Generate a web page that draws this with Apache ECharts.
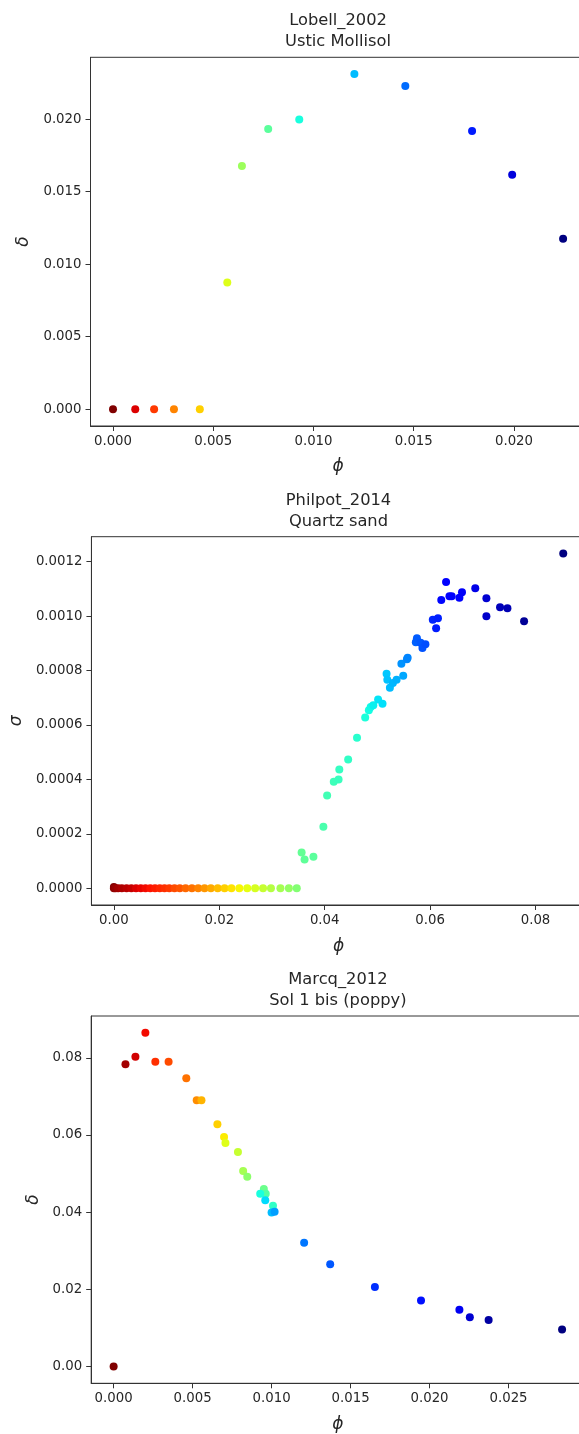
<!DOCTYPE html>
<html>
<head>
<meta charset="utf-8">
<script src="https://cdn.jsdelivr.net/npm/echarts@6/dist/echarts.min.js"></script>
<style>
html,body{margin:0;padding:0;background:#fff;overflow:hidden;width:579px;height:1434px;}
#chart{width:600px;height:1434px;}
</style>
</head>
<body>
<div id="chart"></div>
<script>
// ---------- Data ----------
// Lobell_2002 – Ustic Mollisol
const lobellPhi   = [0, 0.00111, 0.00205, 0.00304, 0.00433, 0.00570, 0.00643, 0.00774, 0.00929, 0.01204, 0.01458, 0.01791, 0.01991, 0.02245];
const lobellDelta = [0, 0, 0, 0, 0, 0.00873, 0.01676, 0.01931, 0.01996, 0.02310, 0.02228, 0.01917, 0.01616, 0.01175];
const lobellC     = [1.0, 0.92, 0.85, 0.77, 0.69, 0.62, 0.54, 0.46, 0.38, 0.31, 0.23, 0.15, 0.08, 0.0];

// Philpot_2014 – Quartz sand
const philpotPhi = [
  0, 0, 0.0003, 0.0008, 0.0015, 0.0024, 0.0033, 0.0042, 0.0051, 0.0060, 0.0069, 0.0078, 0.0087, 0.0096, 0.0105, 0.0115,
  0.0125, 0.0136, 0.0148, 0.0160, 0.0172, 0.0184, 0.0197, 0.0210, 0.0223, 0.0238, 0.0253, 0.0268, 0.0283, 0.0298, 0.0316,
  0.0332, 0.0347,
  0.03562, 0.03618, 0.03786, 0.03975, 0.04046, 0.04172, 0.04263, 0.04277, 0.04445, 0.04613, 0.04768, 0.04838, 0.04873,
  0.04922, 0.05013, 0.05097, 0.05174, 0.05188, 0.05237, 0.05294, 0.05364, 0.05490, 0.05455, 0.05560, 0.05574, 0.05729,
  0.05750, 0.05820, 0.05855, 0.05911, 0.06051, 0.06149, 0.06114, 0.06212, 0.06303, 0.06367, 0.06409, 0.06556, 0.06605,
  0.06857, 0.07068, 0.07068, 0.07327, 0.07467, 0.07783, 0.08526
];
const philpotSigma = [
  0.000005, 0, 0, 0, 0, 0, 0, 0, 0, 0, 0, 0, 0, 0, 0, 0,
  0, 0, 0, 0, 0, 0, 0, 0, 0, 0, 0, 0, 0, 0, 0,
  0, 0,
  0.000131, 0.000106, 0.000116, 0.000226, 0.000341, 0.000391, 0.000400, 0.000436, 0.000473, 0.000553, 0.000627, 0.000654, 0.000666,
  0.000672, 0.000693, 0.000678, 0.000788, 0.000766, 0.000737, 0.000754, 0.000766, 0.000781, 0.000825, 0.000841, 0.000847, 0.000904,
  0.000918, 0.000902, 0.000883, 0.000896, 0.000986, 0.000992, 0.000955, 0.001059, 0.001125, 0.001073, 0.001073, 0.001067, 0.001087,
  0.001102, 0.001065, 0.000999, 0.001032, 0.001029, 0.000981, 0.001230
];
const philpotC = [
  1.0, 0.99, 0.98, 0.97, 0.96, 0.95, 0.94, 0.92, 0.91, 0.90, 0.89, 0.88, 0.87, 0.86, 0.85, 0.83,
  0.82, 0.80, 0.79, 0.77, 0.75, 0.73, 0.71, 0.69, 0.67, 0.65, 0.63, 0.61, 0.59, 0.57, 0.55,
  0.53, 0.51,
  0.47, 0.465, 0.46, 0.44, 0.43, 0.425, 0.42, 0.415, 0.41, 0.40, 0.385, 0.375, 0.37,
  0.36, 0.35, 0.345, 0.32, 0.315, 0.31, 0.305, 0.30, 0.29, 0.27, 0.26, 0.255, 0.22,
  0.215, 0.21, 0.205, 0.20, 0.16, 0.155, 0.15, 0.13, 0.125, 0.12, 0.115, 0.11, 0.105,
  0.09, 0.07, 0.065, 0.05, 0.045, 0.02, 0.0
];

// Marcq_2012 – Sol 1 bis (poppy)
const marcqPhi = [0, 0.00075, 0.00138, 0.00201, 0.00264, 0.00348, 0.00460, 0.00526, 0.00556, 0.00657, 0.00699, 0.00708, 0.00787, 0.00820, 0.00846,
                  0.00951, 0.00963, 0.01009, 0.00928, 0.00960, 0.01000, 0.01019, 0.01206, 0.01371, 0.01654, 0.01946, 0.02189, 0.02255, 0.02374, 0.02839];
const marcqDelta = [0, 0.0783, 0.0803, 0.0865, 0.0790, 0.0790, 0.0747, 0.0690, 0.0690, 0.0628, 0.0595, 0.0579, 0.0556, 0.0507, 0.0492,
                    0.0460, 0.0448, 0.0417, 0.0448, 0.0431, 0.0399, 0.0401, 0.0321, 0.0265, 0.0206, 0.0171, 0.0147, 0.0128, 0.0121, 0.0096];
const marcqC = [1.0, 0.97, 0.93, 0.90, 0.86, 0.83, 0.79, 0.76, 0.72, 0.69, 0.66, 0.62, 0.59, 0.55, 0.52,
                0.48, 0.45, 0.41, 0.38, 0.34, 0.31, 0.28, 0.24, 0.21, 0.17, 0.14, 0.10, 0.07, 0.03, 0.0];

// Titles / tick values
const titles = ['Lobell_2002\nUstic Mollisol', 'Philpot_2014\nQuartz sand', 'Marcq_2012\nSol 1 bis (poppy)'];
const yNames = ['δ', 'σ', 'δ'];
const xName = 'ϕ';
const lobellXTicks = [0, 0.005, 0.010, 0.015, 0.020];
const lobellYTicks = [0, 0.005, 0.010, 0.015, 0.020];
const philpotXTicks = [0, 0.02, 0.04, 0.06, 0.08];
const philpotYTicks = [0, 0.0002, 0.0004, 0.0006, 0.0008, 0.0010, 0.0012];
const marcqXTicks = [0, 0.005, 0.010, 0.015, 0.020, 0.025];
const marcqYTicks = [0, 0.02, 0.04, 0.06, 0.08];

// ---------- Styling helpers ----------
function interpSeg(seg, t) {
  for (let i = 1; i < seg.length; i++) {
    if (t <= seg[i][0]) {
      const [x0, y0] = seg[i - 1], [x1, y1] = seg[i];
      return y0 + (y1 - y0) * (t - x0) / (x1 - x0);
    }
  }
  return seg[seg.length - 1][1];
}
const R = [[0,0],[0.35,0],[0.66,1],[0.89,1],[1,0.5]];
const G = [[0,0],[0.125,0],[0.375,1],[0.64,1],[0.91,0],[1,0]];
const B = [[0,0.5],[0.11,1],[0.34,1],[0.65,0],[1,0]];
const jetColors = [];
for (let k = 0; k <= 64; k++) {
  const t = k / 64;
  const c = [R, G, B].map(s => Math.round(255 * interpSeg(s, t)));
  jetColors.push('rgb(' + c.join(',') + ')');
}

function pts(xs, ys, cs) { return xs.map((x, i) => [x, ys[i], cs[i]]); }
function padMin(v) { return v.min - 0.05 * (v.max - v.min); }
function padMax(v) { return v.max + 0.05 * (v.max - v.min); }

const FONT = 'DejaVu Sans';
const TXT = '#262626';
const AX = '#333';

const grids = [
  { left: 90.5, top: 57.3, width: 495.1, height: 368.7 },
  { left: 91.2, top: 536.7, width: 494.5, height: 368.3 },
  { left: 91.2, top: 1016, width: 493.3, height: 367.3 }
];
const titleTops = [10.2, 490.2, 969.5];
const titleCenters = [338.0, 338.5, 337.9];
const xTicks = [lobellXTicks, philpotXTicks, marcqXTicks];
const yTicks = [lobellYTicks, philpotYTicks, marcqYTicks];
const xDec = [3, 2, 3];
const yDec = [3, 4, 2];
const yNameGap = [52, 64, 43];
const xNameGap = [32, 33, 32.5];

const option = {
  animation: false,
  backgroundColor: '#fff',
  title: titles.map((t, i) => ({
    text: t, left: titleCenters[i], top: titleTops[i], textAlign: 'center', padding: 0,
    textStyle: { fontFamily: FONT, fontSize: 16.3, fontWeight: 'normal', color: TXT, lineHeight: 21, align: 'center' }
  })),
  grid: grids.map(g => Object.assign({ show: true, borderColor: AX, borderWidth: 1, backgroundColor: '#fff', containLabel: false }, g)),
  xAxis: [0, 1, 2].map(i => ({
    type: 'value', gridIndex: i, min: padMin, max: padMax,
    name: xName, nameLocation: 'middle', nameGap: xNameGap[i],
    nameTextStyle: { fontFamily: FONT, fontSize: 17, fontStyle: 'italic', color: TXT },
    axisLine: { show: true, onZero: false, lineStyle: { color: AX, width: 1 } },
    axisTick: { show: true, length: 5, customValues: xTicks[i], lineStyle: { color: AX } },
    axisLabel: { customValues: xTicks[i], margin: 9, fontFamily: FONT, fontSize: 13.3, color: TXT,
                 formatter: v => v.toFixed(xDec[i]) },
    splitLine: { show: false }
  })),
  yAxis: [0, 1, 2].map(i => ({
    type: 'value', gridIndex: i, min: padMin, max: padMax,
    name: yNames[i], nameLocation: 'middle', nameGap: yNameGap[i],
    nameTextStyle: { fontFamily: FONT, fontSize: 17, fontStyle: 'italic', color: TXT },
    axisLine: { show: true, onZero: false, lineStyle: { color: AX, width: 1 } },
    axisTick: { show: true, length: 5, customValues: yTicks[i], lineStyle: { color: AX } },
    axisLabel: { customValues: yTicks[i], margin: 9, fontFamily: FONT, fontSize: 13.3, color: TXT,
                 formatter: v => v.toFixed(yDec[i]) },
    splitLine: { show: false }
  })),
  visualMap: [0, 1, 2].map(i => ({
    type: 'continuous', show: false, seriesIndex: i, dimension: 2, min: 0, max: 1,
    inRange: { color: jetColors }
  })),
  series: [
    pts(lobellPhi, lobellDelta, lobellC),
    pts(philpotPhi, philpotSigma, philpotC),
    pts(marcqPhi, marcqDelta, marcqC)
  ].map((d, i) => ({
    type: 'scatter', xAxisIndex: i, yAxisIndex: i, data: d, symbolSize: 8,
    itemStyle: { opacity: 1 }, emphasis: { disabled: true }
  }))
};

const chart = echarts.init(document.getElementById('chart'), null, { renderer: 'canvas' });
chart.setOption(option);
</script>
</body>
</html>
